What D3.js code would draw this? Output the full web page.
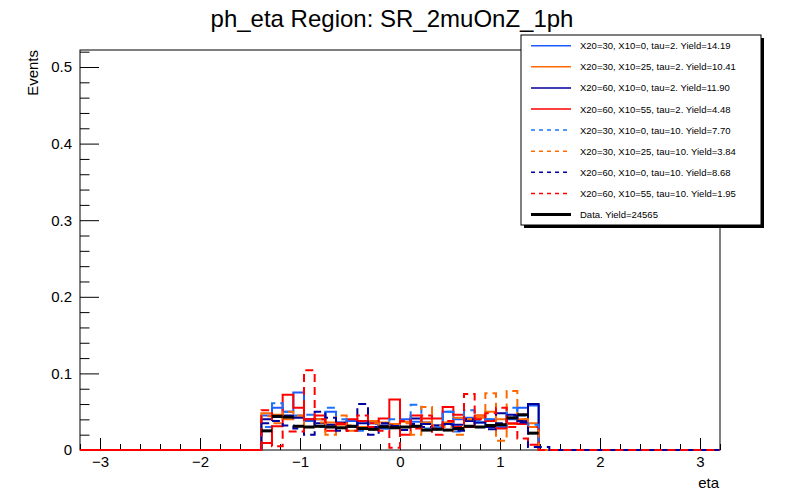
<!DOCTYPE html>
<html>
<head>
<script src="https://cdnjs.cloudflare.com/ajax/libs/d3/7.8.5/d3.min.js"></script>
<style>
  body { margin: 0; background: #fff; }
  text { font-family: "Liberation Sans", Arial, sans-serif; }
</style>
</head>
<body>
<script>
const W = 800, H = 500;
const margin = { left: 80, right: 80, top: 50, bottom: 50 };

// histogram binning: 60 bins from -3.2 to 3.2, filled bins start at index 17
const nBins = 60, xMin = -3.2, xMax = 3.2, firstBin = 17;

// per-bin fractions (bins 17..43)
const sigA = [0.045, 0.055, 0.050, 0.075, 0.038, 0.040, 0.050, 0.035, 0.038, 0.030, 0.035, 0.028, 0.030, 0.040, 0.037, 0.036, 0.032, 0.050, 0.040, 0.042, 0.036, 0.040, 0.030, 0.040, 0.055, 0.058, 0];
const sigB = [0.048, 0.046, 0.040, 0.044, 0.030, 0.040, 0.036, 0.033, 0.025, 0.030, 0.038, 0.036, 0.034, 0.037, 0.030, 0.036, 0.028, 0.036, 0.042, 0.040, 0.042, 0.050, 0.040, 0.034, 0.040, 0.035, 0];
const sigC = [0.040, 0.043, 0.045, 0.042, 0.040, 0.035, 0.033, 0.036, 0.030, 0.035, 0.030, 0.032, 0.032, 0.030, 0.041, 0.034, 0.032, 0.034, 0.033, 0.038, 0.036, 0.030, 0.048, 0.046, 0.038, 0.060, 0];
const sigD = [0.009, 0.031, 0.072, 0.055, 0.040, 0.045, 0.025, 0.034, 0.040, 0.038, 0.035, 0.041, 0.066, 0.020, 0.045, 0.041, 0.041, 0.056, 0.046, 0.030, 0.045, 0.038, 0.028, 0.035, 0.034, 0.030, 0];
const sigE = [0.030, 0.061, 0.050, 0.045, 0.046, 0.030, 0.055, 0.040, 0.030, 0.025, 0.034, 0.028, 0.040, 0.030, 0.059, 0.028, 0.030, 0.050, 0.024, 0.052, 0.038, 0.040, 0.032, 0.055, 0.045, 0.033, 0];
const sigF = [0.044, 0.035, 0.050, 0.045, 0.030, 0.036, 0.020, 0.045, 0.032, 0.028, 0.035, 0.030, 0.034, 0.035, 0.020, 0.056, 0.032, 0.030, 0.020, 0.040, 0.045, 0.074, 0.012, 0.077, 0.040, 0.030, 0];
const sigG = [0.035, 0.038, 0.032, 0.028, 0.020, 0.050, 0.042, 0.025, 0.030, 0.060, 0.020, 0.035, 0.030, 0.026, 0.034, 0.030, 0.028, 0.033, 0.025, 0.040, 0.030, 0.027, 0.035, 0.045, 0.036, 0.004, 0.004];
const sigH = [0.052, 0.005, 0.024, 0.024, 0.104, 0.040, 0.030, 0.035, 0.025, 0.045, 0.030, 0.025, 0.003, 0.038, 0.028, 0.045, 0.020, 0.038, 0.030, 0.073, 0.040, 0.048, 0.055, 0.030, 0.015, 0.007, 0];
const dataVals = [0.025, 0.044, 0.043, 0.031, 0.030, 0.031, 0.030, 0.029, 0.031, 0.028, 0.027, 0.030, 0.029, 0.030, 0.031, 0.026, 0.027, 0.026, 0.028, 0.031, 0.030, 0.032, 0.033, 0.042, 0.046, 0.022, 0];
const dataErr = 0.0012;

const seriesNames = [
  "X20=30, X10=0, tau=2. Yield=14.19",
  "X20=30, X10=25, tau=2. Yield=10.41",
  "X20=60, X10=0, tau=2. Yield=11.90",
  "X20=60, X10=55, tau=2. Yield=4.48",
  "X20=30, X10=0, tau=10. Yield=7.70",
  "X20=30, X10=25, tau=10. Yield=3.84",
  "X20=60, X10=0, tau=10. Yield=8.68",
  "X20=60, X10=55, tau=10. Yield=1.95"
];
const seriesVals = [sigA, sigB, sigC, sigD, sigE, sigF, sigG, sigH];
const seriesColors = ["#1a5cff", "#ff6a00", "#000099", "#ff0000", "#1a73ff", "#ff6a00", "#0000a0", "#ff0000"];
const seriesDashed = [false, false, false, false, true, true, true, true];
const dataLabel = "Data. Yield=24565";

const yTicks = [0, 0.1, 0.2, 0.3, 0.4, 0.5];
const xTicks = [-3, -2, -1, 0, 1, 2, 3];

const svg = d3.select("body").append("svg")
  .attr("width", W).attr("height", H);

const x = d3.scaleLinear().domain([xMin, xMax]).range([margin.left, W - margin.right]);
const y = d3.scaleLinear().domain([0, 0.5222]).range([H - margin.bottom, margin.top]);
const binW = (xMax - xMin) / nBins;

// full-range histogram as step path
function histPoints(vals) {
  const pts = [];
  for (let i = 0; i < nBins; i++) {
    const k = i - firstBin;
    const v = (k >= 0 && k < vals.length) ? vals[k] : 0;
    const lo = xMin + i * binW;
    pts.push([lo, v], [lo + binW, v]);
  }
  return pts;
}
const line = d3.line().x(d => x(d[0])).y(d => y(d[1]));

// frame
svg.append("rect")
  .attr("x", margin.left).attr("y", margin.top)
  .attr("width", W - margin.left - margin.right)
  .attr("height", H - margin.top - margin.bottom)
  .attr("fill", "none").attr("stroke", "#000").attr("stroke-width", 1);

// axes
svg.append("g").attr("transform", `translate(${margin.left},0)`)
  .call(d3.axisLeft(y).tickValues(yTicks).tickSize(-19).tickPadding(8)
    .tickFormat(d => d === 0 ? "0" : d3.format(".1f")(d)));
svg.append("g").attr("transform", `translate(${margin.left},0)`)
  .call(d3.axisLeft(y).tickValues(d3.range(0, 0.521, 0.02).filter(v => Math.abs(v * 10 - Math.round(v * 10)) > 1e-6))
    .tickSize(-9.5).tickFormat(""));

svg.append("g").attr("transform", `translate(0,${H - margin.bottom})`)
  .call(d3.axisBottom(x).tickValues(xTicks).tickSize(-12).tickPadding(6)
    .tickFormat(d => d < 0 ? "\u2212" + Math.abs(d) : d));
svg.append("g").attr("transform", `translate(0,${H - margin.bottom})`)
  .call(d3.axisBottom(x).tickValues(d3.range(-3.2, 3.21, 0.2).filter(v => Math.abs(v - Math.round(v)) > 1e-6))
    .tickSize(-6).tickFormat(""));

svg.selectAll(".domain").remove();
svg.selectAll(".tick line").attr("stroke", "#000");
svg.selectAll(".tick text").attr("font-size", 15).attr("fill", "#000")
  .style("font-family", "'Liberation Sans', Arial, sans-serif");

// histograms on top of the frame (red line covers the zero edge)
const plot = svg.append("g");
seriesVals.forEach((vals, i) => {
  plot.append("path")
    .attr("d", line(histPoints(vals)))
    .attr("fill", "none")
    .attr("stroke", seriesColors[i])
    .attr("stroke-width", 2)
    .attr("stroke-dasharray", seriesDashed[i] ? "8,5" : null);
});

// data points: horizontal bin bar + error bar
const dg = plot.append("g").attr("stroke", "#000");
dataVals.forEach((v, k) => {
  if (v <= 0) return;
  const lo = xMin + (firstBin + k) * binW;
  const c = lo + binW / 2;
  dg.append("line")
    .attr("x1", x(lo)).attr("x2", x(lo + binW))
    .attr("y1", y(v)).attr("y2", y(v))
    .attr("stroke-width", 3);
  dg.append("line")
    .attr("x1", x(c)).attr("x2", x(c))
    .attr("y1", y(v - dataErr)).attr("y2", y(v + dataErr))
    .attr("stroke-width", 2);
});

// title and axis labels
svg.append("text").attr("x", 392).attr("y", 27).attr("text-anchor", "middle")
  .attr("font-size", 24).text("ph_eta Region: SR_2muOnZ_1ph");
svg.append("text").attr("transform", "translate(38,50) rotate(-90)")
  .attr("text-anchor", "end").attr("font-size", 15).text("Events");
svg.append("text").attr("x", 719).attr("y", 488).attr("text-anchor", "end")
  .attr("font-size", 15).text("eta");

// legend
const lg = svg.append("g");
lg.append("rect").attr("x", 524).attr("y", 38).attr("width", 240).attr("height", 190).attr("fill", "#000");
lg.append("rect").attr("x", 521).attr("y", 35).attr("width", 240).attr("height", 190)
  .attr("fill", "#fff").attr("stroke", "#000").attr("stroke-width", 1);
const rowY = i => 45.7 + i * 21.1;
const entries = seriesNames.map((n, i) => ({ name: n, color: seriesColors[i], dash: seriesDashed[i], w: 1.5 }));
entries.push({ name: dataLabel, color: "#000", dash: false, w: 3 });
entries.forEach((e, i) => {
  lg.append("line").attr("x1", 531).attr("x2", 571).attr("y1", rowY(i)).attr("y2", rowY(i))
    .attr("stroke", e.color).attr("stroke-width", e.w)
    .attr("stroke-dasharray", e.dash ? "4,4" : null);
  lg.append("text").attr("x", 580).attr("y", rowY(i) + 3.5).attr("font-size", 9.5).text(e.name);
});
</script>
</body>
</html>
